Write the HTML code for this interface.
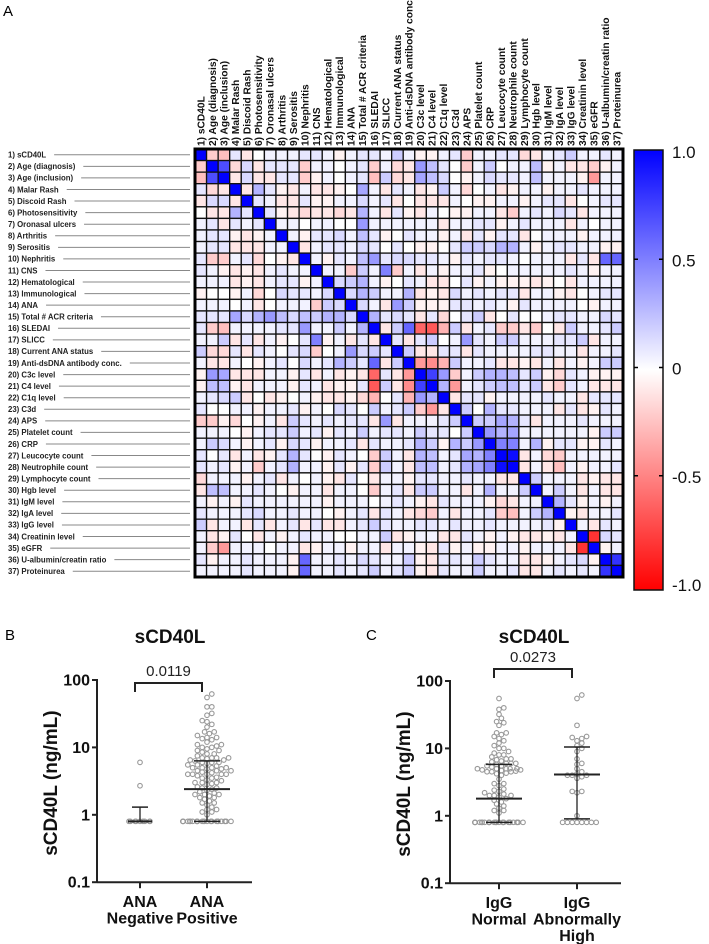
<!DOCTYPE html>
<html><head><meta charset="utf-8"><style>
body{margin:0;background:#fff;}
svg{display:block;font-family:"Liberation Sans",Arial,sans-serif;}
</style></head><body>
<svg id="fig" width="709" height="944" viewBox="0 0 709 944">
<text x="3" y="16" font-size="15">A</text>
<text x="5" y="640" font-size="15">B</text>
<text x="366" y="640" font-size="15">C</text>
<g id="heat"></g>
<g id="cbar"></g>
<g id="pb"></g>
<g id="pc"></g>
</svg>
<script>
const variables=["1) sCD40L","2) Age (diagnosis)","3) Age (inclusion)","4) Malar Rash","5) Discoid Rash","6) Photosensitivity","7) Oronasal ulcers","8) Arthritis","9) Serositis","10) Nephritis","11) CNS","12) Hematological","13) Immunological","14) ANA","15) Total # ACR criteria","16) SLEDAI","17) SLICC","18) Current ANA status","19) Anti-dsDNA antibody conc.","20) C3c level","21) C4 level","22) C1q level","23) C3d","24) APS","25) Platelet count","26) CRP","27) Leucocyte count","28) Neutrophile count","29) Lymphocyte count","30) Hgb level","31) IgM level","32) IgA level","33) IgG level","34) Creatinin level","35) eGFR","36) U-albumin/creatin ratio","37) Proteinurea"];
const corrLower=[
[1],
[-0.2,1],
[-0.25,0.7,1],
[0.1,-0.15,-0.1,1],
[-0.1,0.15,0.15,-0.1,1],
[0,-0.1,-0.1,0.3,0.1,1],
[0.05,0.1,-0.1,0.1,0.05,0.1,1],
[0.05,0.1,0.1,-0.05,-0.1,-0.05,0.05,1],
[0.05,0.1,0.1,-0.1,-0.1,-0.1,0.05,0.05,1],
[0.1,-0.2,-0.2,0.05,0.1,-0.15,0,-0.05,-0.1,1],
[0.1,0.05,-0.05,-0.1,-0.05,-0.1,0.05,0.1,0.05,0.05,1],
[0.05,0.05,0.05,-0.1,-0.05,-0.1,0.05,0.1,0.1,-0.05,0.05,1],
[-0.05,0,0,-0.05,0.05,-0.15,0,0.15,0.1,0.1,0.05,0.15,1],
[0.05,0.05,0.05,0,0.05,-0.1,0,0.05,0.05,0.05,-0.2,0.2,0.15,1],
[0.1,0.1,0.1,0.35,0.15,0.3,0.4,0.25,0.15,0.25,0.2,0.3,0.3,0.15,1],
[0.1,-0.2,-0.25,0.05,0.05,0.05,0.05,0.1,0.1,0.4,0.05,0.05,0.2,0.05,0.3,1],
[0.05,0.05,0.2,-0.1,0.1,-0.1,0.05,-0.05,0,0.1,0.5,-0.05,0.05,-0.1,0.1,-0.1,1],
[0.2,-0.15,-0.15,0.1,-0.1,0.1,0.05,0,0.1,0.15,-0.2,0,0.05,0.4,0.15,0.2,0.1,1],
[0.05,-0.1,-0.1,0.05,0,-0.05,0.05,0.1,0,0.15,0.05,0.1,0.3,0.2,0.1,0.6,-0.1,0.2,1],
[-0.05,0.4,0.35,-0.1,-0.1,-0.1,0.05,0.05,-0.05,0.1,-0.1,0.05,-0.1,-0.05,-0.1,-0.6,0.1,-0.1,-0.4,1],
[-0.05,0.25,0.25,-0.05,-0.1,0.05,0.05,0.05,-0.05,0.1,0.05,-0.1,-0.05,-0.05,0.1,-0.65,0.2,-0.1,-0.45,0.75,1],
[0.05,0.1,0.15,0.2,-0.1,0,-0.1,-0.05,0,0.05,-0.05,-0.1,-0.1,-0.05,-0.15,-0.3,0,0.1,-0.3,0.4,0.3,1],
[0.1,0,0,0.05,0.05,-0.05,0.05,0.05,0.1,-0.05,0.05,0,0.15,0.1,0,0.2,0.05,0.1,0.2,-0.2,-0.4,-0.1,1],
[-0.2,-0.2,-0.05,-0.15,0,-0.05,0.05,-0.1,0.2,0.1,0.05,0.1,0.05,0.1,0.1,-0.1,0.4,-0.1,0.05,0.05,0.05,0.1,0.2,1],
[0.05,0.05,0.05,0,-0.05,0.05,0.1,0.1,0.2,0.05,0.1,-0.05,0.1,0.05,0.2,0.05,0.1,0.1,0.05,0.2,0.1,0.1,0,0.2,1],
[0.05,0.2,0.15,0.05,-0.05,0.05,0.1,-0.05,0.15,0.1,-0.05,0.05,0.05,0.1,-0.1,0.1,0.05,0.05,0.1,0.3,0.2,-0.05,0.3,0.2,0.4,1],
[0.1,0,0.1,-0.1,0.05,-0.1,-0.05,0.1,0.3,0.1,0,-0.05,0.1,0.05,0,-0.2,0.2,0.05,-0.1,0.3,0.25,0.05,0.1,0.35,0.3,0.5,1],
[0.1,0.05,0.1,-0.05,0.05,-0.2,0.05,0.1,0.3,0.05,0.05,-0.05,0.1,-0.05,0.1,-0.2,0.2,0.05,-0.1,0.25,0.25,0.05,0.1,0.3,0.35,0.5,0.95,1],
[-0.15,0.05,0.05,0.05,-0.05,0.05,0.1,-0.1,0.05,0,0.05,-0.05,-0.1,0.1,0,-0.1,0.05,0.05,-0.05,0.1,0.1,0.05,0.05,0.1,0.05,0.05,-0.1,-0.1,1],
[-0.1,0.25,0.25,0.05,0.05,0.1,0.05,0,-0.05,0.05,0.05,-0.1,0.05,0.05,0,-0.2,0.05,0.1,-0.1,0.2,0.2,0.05,0.05,-0.1,0.05,0.3,0.05,0.05,0.2,1],
[0.05,-0.05,0.05,-0.05,0.1,0.05,0.05,0.05,0.05,0.05,0.05,-0.05,0.05,0.05,0.05,0,0.05,0.1,0.05,-0.05,-0.1,0.1,0.05,0.05,0.05,-0.05,-0.15,-0.1,0.05,0.05,1],
[0.1,0.05,0.05,0.05,0.1,0.15,0.05,0.05,0.1,0.05,0.05,0,-0.05,0.05,0.1,-0.1,0.1,0.05,-0.1,-0.15,-0.2,0.05,-0.1,0.05,0.05,0.1,-0.2,-0.25,0.05,0.2,0.3,1],
[0.2,-0.1,0.05,0.05,-0.1,0.1,-0.1,0.05,0.1,-0.1,0.1,-0.1,-0.1,0.05,0.1,0.2,0.1,0.05,0.05,0.1,0.1,0.05,0.1,0.05,0.05,0.1,0.05,0.05,0.05,0.05,0.1,-0.05,1],
[0.05,-0.1,-0.05,0.1,0,-0.1,0.05,-0.05,0.05,0.1,0.05,0.05,0,0,0.05,0.05,0.2,-0.1,-0.05,0.05,0.05,-0.1,-0.1,0.1,0.05,-0.05,0.05,-0.05,-0.1,-0.1,-0.05,-0.1,0.05,1],
[0.05,-0.2,-0.4,0.05,0.05,0.05,0,0.05,0.05,-0.1,-0.05,0.05,0.05,-0.05,0.05,0.05,-0.1,0.05,0.05,-0.05,-0.1,0.1,-0.05,0.05,-0.05,-0.05,0.05,0.05,-0.05,0.05,0.05,0.05,-0.1,-0.8,1],
[0.1,-0.05,0.05,0.05,0.1,0.05,0.05,0.05,-0.05,0.6,0.05,0.05,0.1,0.05,0.15,0.1,0.05,0.05,0.2,-0.05,-0.1,0.1,0.1,0.05,0.2,0.1,0.05,0.05,-0.1,-0.1,-0.05,0.05,0.1,0.15,-0.05,1],
[0.05,0.05,0.05,0.05,0.1,0.05,0.05,0.05,-0.05,0.6,0.05,0.05,0.1,0.05,0.1,0.2,0.05,0.1,0.2,-0.05,-0.1,0.1,0.05,0.05,0.2,0.05,0.05,0.1,-0.1,-0.1,0.05,0.1,0.05,0.1,0.05,0.8,1]
];
const cbarTicks=[1.0,0.5,0,-0.5,-1.0];
const cbarTickLabels=["1.0","0.5","0","-0.5","-1.0"];

const bCategories=[["ANA","Negative"],["ANA","Positive"]];
const bValues=[
 [0.8,0.8,0.8,0.8,0.8,0.8,0.8,0.8,0.8,2.7,6],
 [62,55,40,40,32,30,25,24,22,20,17,17,16,15,14,14,13.5,13,12,11,11,10.5,10,10,9.5,9,9,8.5,8,8,7.5,7,7,7,7,6.8,6.5,6.5,6.3,6,6,6,5.8,5.5,5.5,5.3,5,5,5,5,4.8,4.8,4.5,4.5,4.5,4.3,4.2,4,4,4,4,4,3.8,3.6,3.5,3.5,3.3,3.2,3,3,3,2.9,2.8,2.6,2.5,2.5,2.4,2.3,2.2,2.1,2,2,2,1.9,1.8,1.8,1.7,1.6,1.5,1.5,1.4,1.3,1.2,1.2,1.1,1.1,1,
  0.8,0.8,0.8,0.8,0.8,0.8,0.8,0.8,0.8,0.8,0.8,0.8,0.8,0.8,0.8,0.8,0.8,0.8,0.8,0.8,0.8,0.8,0.8,0.8,0.8,0.8,0.8,0.8]
];
const bMedian=[0.8,2.4];
const bUpper=[1.3,6.3];
const bLower=[0.8,0.8];
const bPValue="0.0119";

const cCategories=[["IgG","Normal"],["IgG","Abnormally","High"]];
const cValues=[
 [55,40,38,32,28,25,24,22,17,17,16,15,14,13,12,11,10,10,9,8.5,8,8,7.5,7,7,6.8,6.5,6.3,6,6,6,5.8,5.5,5.5,5.3,5,5,5,5,5,4.8,4.8,4.7,4.6,4.5,4.5,4.5,4.3,4.2,4,3.5,3,3,2.8,2.5,2.4,2.3,2.2,2.1,2,2,2,1.9,1.8,1.7,1.6,1.5,1.4,1.3,1.2,1.2,1.1,
  0.8,0.8,0.8,0.8,0.8,0.8,0.8,0.8,0.8,0.8,0.8,0.8,0.8,0.8,0.8,0.8,0.8,0.8,0.8,0.8,0.8,0.8,0.8,0.8,0.8,0.8,0.8,0.8,0.8,0.8],
 [62,55,22,15,14.5,14,13,12,11,10,9,7,6,5.8,5,4.5,4.2,4,4,4,3.8,3.6,2.3,2.3,2.2,1,0.8,0.8,0.8,0.8,0.8,0.8,0.8,0.8]
];
const cMedian=[1.8,4.1];
const cUpper=[5.8,10.5];
const cLower=[0.8,0.9];
const cPValue="0.0273";
const yTickValues=[100,10,1,0.1];
const yTickLabels=["100","10","1","0.1"];

const NS="http://www.w3.org/2000/svg";
function mk(tag,attrs,parent){const e=document.createElementNS(NS,tag);for(const k in attrs)e.setAttribute(k,attrs[k]);parent.appendChild(e);return e;}

const heat=document.getElementById('heat');
const N=variables.length, gx=195, gy=149, gs=428, cs=gs/N;
function corr(i,j){return i>=j?corrLower[i][j]:corrLower[j][i];}
function colorOf(v){v=Math.max(-1,Math.min(1,v));
 if(v>=0){const c=Math.round(255*(1-v));return `rgb(${c},${c},255)`;}
 const c=Math.round(255*(1+v));return `rgb(255,${c},${c})`;}
for(let i=0;i<N;i++){for(let j=0;j<N;j++){
 const r=mk('rect',{x:gx+j*cs,y:gy+i*cs,width:cs,height:cs,fill:colorOf(corr(i,j)),stroke:'#111','stroke-width':1.3},heat);
 
 
}}
const border=mk('rect',{x:gx,y:gy,width:gs,height:gs,fill:'none',stroke:'#000','stroke-width':3},heat);


for(let i=0;i<N;i++){
 const cy=gy+(i+0.5)*cs;
 const t=mk('text',{x:8,y:cy+2.8,'font-size':7.8,'font-weight':'bold',fill:'#222'},heat);
 t.textContent=variables[i];
 
 
 const w=t.getComputedTextLength();
 const ln=mk('line',{x1:8+w+8,y1:cy,x2:190,y2:cy,stroke:'#888','stroke-width':1},heat);
 
 
 const cx=gx+(i+0.5)*cs;
 const ct=mk('text',{x:0,y:0,'font-size':10.2,fill:'#111','font-weight':'bold',transform:`translate(${cx+3.5},146) rotate(-90)`},heat);
 ct.textContent=variables[i];
 
 
}

const cb=document.getElementById('cbar');
const defs=mk('defs',{},cb);
const lg=mk('linearGradient',{id:'cg',x1:0,y1:0,x2:0,y2:1},defs);
mk('stop',{offset:'0%','stop-color':'#0000ff'},lg);
mk('stop',{offset:'50%','stop-color':'#ffffff'},lg);
mk('stop',{offset:'100%','stop-color':'#ff0000'},lg);
const cbx=634,cby=150,cbw=29,cbh=440;
const cbr=mk('rect',{x:cbx,y:cby,width:cbw,height:cbh,fill:'url(#cg)',stroke:'#111','stroke-width':1.5},cb);


function cbY(v){return cby+(1-v)/2*(cbh-7)+1;}
cbarTicks.forEach((v,k)=>{
 const y=cbY(v);
 if(Math.abs(v)<1){
  mk('line',{x1:cbx,y1:y,x2:cbx+4,y2:y,stroke:'#000','stroke-width':1.5},cb);
  mk('line',{x1:cbx+cbw-4,y1:y,x2:cbx+cbw,y2:y,stroke:'#000','stroke-width':1.5},cb);
 }
 const t=mk('text',{x:672,y:y+7,'font-size':17,fill:'#111'},cb);
 t.textContent=cbarTickLabels[k];
 
 
});

function dotPlot(g,o,cats,vals,med,up,lo,pval){
 const yAt=v=>o.y100+(2-Math.log10(v))*o.dec;
 const bottom=yAt(0.1);
 const t=mk('text',{x:o.titleX,y:643,'font-size':19,'font-weight':'bold','text-anchor':'middle',fill:'#111'},g);
 t.textContent='sCD40L';
 
 
 const yl=mk('text',{x:0,y:0,'font-size':19,'font-weight':'bold','text-anchor':'middle',fill:'#111',transform:`translate(${o.ax-40},${(o.y100+bottom)/2+2}) rotate(-90)`},g);
 yl.textContent='sCD40L (ng/mL)';
 
 
 mk('line',{x1:o.ax,y1:o.y100-1,x2:o.ax,y2:bottom,stroke:'#222','stroke-width':2},g);
 mk('line',{x1:o.ax,y1:bottom,x2:o.axEnd,y2:bottom,stroke:'#222','stroke-width':2},g);
 yTickValues.forEach((v,k)=>{const y=yAt(v);
  mk('line',{x1:o.ax-5,y1:y,x2:o.ax,y2:y,stroke:'#222','stroke-width':2},g);
  const tl=mk('text',{x:o.ax-7,y:y+5.5,'font-size':16,'font-weight':'bold','text-anchor':'end',fill:'#111'},g);
  tl.textContent=yTickLabels[k];
  
  
 });
 cats.forEach((c,ci)=>{
  const cx=o.cx[ci];
  mk('line',{x1:cx,y1:bottom,x2:cx,y2:bottom+6,stroke:'#222','stroke-width':2},g);
  c.forEach((line,li)=>{
   const tl=mk('text',{x:cx,y:bottom+25+li*16.5,'font-size':16,'font-weight':'bold','text-anchor':'middle',fill:'#111'},g);
   tl.textContent=line;
   
   
  });
  const r=2.3, placed=[], maxOff=o.spread[ci];
  const sorted=vals[ci].slice().sort((a,b)=>a-b);
  let overflow=0;
  sorted.forEach(v=>{
   const y=yAt(v); let best=null;
   for(let s=0;s<60;s++){
    const off=(s%2?1:-1)*Math.ceil(s/2)*2.4;
    if(Math.abs(off)>maxOff)break;
    if(placed.every(p=>(p[0]-off)**2+(p[1]-y)**2>=(2*r-0.3)**2)){best=off;break;}
   }
   if(best===null){best=((overflow*7)%(2*maxOff+1))-maxOff;overflow++;}
   placed.push([best,y]);
   const d=mk('circle',{cx:cx+best,cy:y,r:r,fill:'none',stroke:'#999','stroke-width':1.1},g);
   
   
  });
  const ym=yAt(med[ci]),yu=yAt(up[ci]),ylo=yAt(lo[ci]);
  mk('line',{x1:cx,y1:yu,x2:cx,y2:ylo,stroke:'#222','stroke-width':1.3},g);
  const mw=o.medW[ci];
  const ml=mk('line',{x1:cx-mw,y1:ym,x2:cx+mw,y2:ym,stroke:'#222','stroke-width':2},g);
  
  
  mk('line',{x1:cx-o.capW[ci],y1:yu,x2:cx+o.capW[ci],y2:yu,stroke:'#222','stroke-width':1.5},g);
  mk('line',{x1:cx-o.capW[ci],y1:ylo,x2:cx+o.capW[ci],y2:ylo,stroke:'#222','stroke-width':1.5},g);
 });
 mk('path',{d:`M${o.cx[0]-5},${o.brY+9}V${o.brY}H${o.cx[1]-5}V${o.brY+9}`,fill:'none',stroke:'#222','stroke-width':2},g);
 const p=mk('text',{x:(o.cx[0]+o.cx[1])/2-5,y:o.brY-7,'font-size':15,'text-anchor':'middle',fill:'#222'},g);
 p.textContent=pval;
 
 
}
dotPlot(document.getElementById('pb'),{ax:97,axEnd:252,y100:680,dec:67.4,cx:[140,207],titleX:170,brY:683,medW:[12,23],capW:[8,13],spread:[11,24]},bCategories,bValues,bMedian,bUpper,bLower,bPValue);
dotPlot(document.getElementById('pc'),{ax:450,axEnd:621,y100:681,dec:67.4,cx:[499,577],titleX:534,brY:669,medW:[23,23],capW:[13,13],spread:[24,24]},cCategories,cValues,cMedian,cUpper,cLower,cPValue);
</script>
</body></html>
